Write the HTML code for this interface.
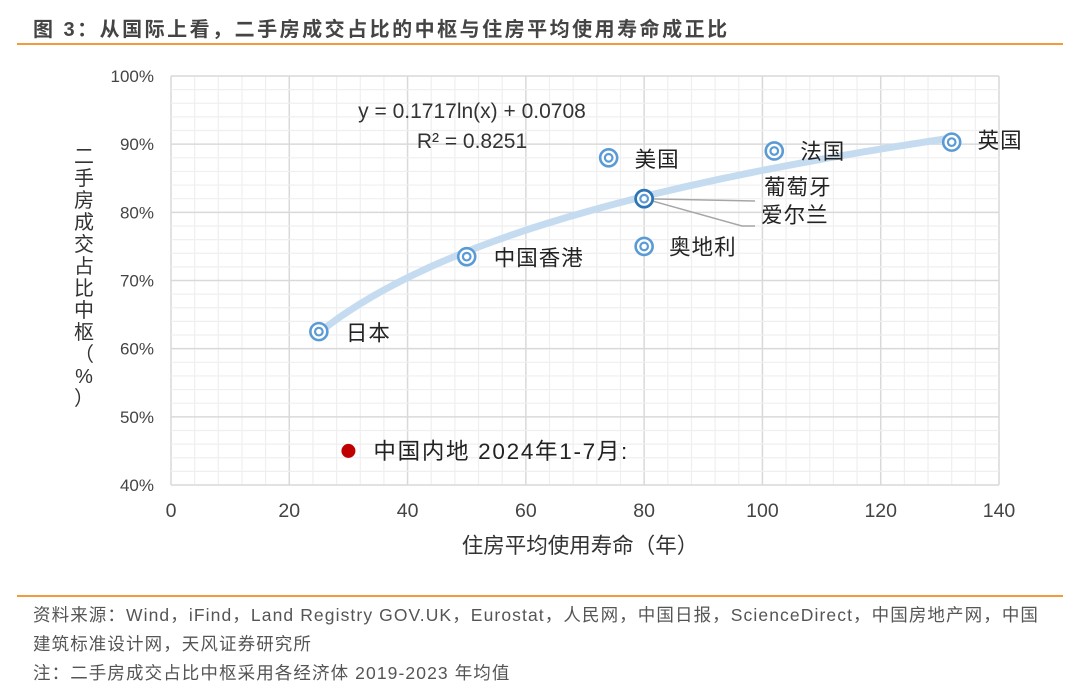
<!DOCTYPE html>
<html><head><meta charset="utf-8">
<style>
body{margin:0;width:1080px;height:700px;background:#fff;overflow:hidden;font-family:"Liberation Sans","Noto Sans CJK SC",sans-serif;}
.t{position:absolute;white-space:nowrap;}
</style></head>
<body>
<div class="t" style="left:33px;top:13px;font-size:20px;letter-spacing:2.5px;font-weight:bold;color:#444;">图 3：从国际上看，二手房成交占比的中枢与住房平均使用寿命成正比</div>
<div style="position:absolute;left:17px;top:43px;width:1046px;height:2px;background:#f39a3a;"></div>
<svg id="chart" width="1080" height="700" style="position:absolute;left:0;top:0;"></svg>
<div style="position:absolute;left:17px;top:595px;width:1046px;height:2px;background:#f39a3a;"></div>
<div class="t" style="left:33px;top:601px;font-size:17.5px;letter-spacing:1.1px;color:#555;line-height:29px;">资料来源：Wind，iFind，Land Registry GOV.UK，Eurostat，人民网，中国日报，ScienceDirect，中国房地产网，中国<br>建筑标准设计网，天风证券研究所<br>注：二手房成交占比中枢采用各经济体 2019-2023 年均值</div>
<script>
const names=["日本","中国香港","美国","葡萄牙","爱尔兰","奥地利","法国","英国"];
const lifeYears=[25,50,74,80,80,80,102,132];
const shares=[62.5,73.5,88,82,82,75,89,90.3];
const xTicks=[0,20,40,60,80,100,120,140];
const yTicks=[40,50,60,70,80,90,100];
const fitA=0.1717, fitB=0.0708;
const chinaX=[30], chinaY=[45];

const NS="http://www.w3.org/2000/svg";
const svg=document.getElementById('chart');
const L=171,R=999,T=76,B=485;
const sx=v=>L+(v-0)/(140-0)*(R-L);
const sy=v=>B-(v-40)/(100-40)*(B-T);
function mk(tag,attrs,parent){const e=document.createElementNS(NS,tag);for(const k in attrs)e.setAttribute(k,attrs[k]);(parent||svg).appendChild(e);return e;}
for(let v=0;v<=140;v+=4){const e=mk('line',{x1:sx(v),x2:sx(v),y1:T,y2:B,stroke:v%20==0?'#d9d9d9':'#efefef','stroke-width':v%20==0?1.5:1.2});

}
for(let v=40;v<=100;v+=2){const e=mk('line',{x1:L,x2:R,y1:sy(v),y2:sy(v),stroke:v%10==0?'#d9d9d9':'#efefef','stroke-width':v%10==0?1.5:1.2});

}
xTicks.forEach(v=>{const e=mk('text',{x:sx(v),y:517,'text-anchor':'middle','font-size':19.5,fill:'#444'});e.textContent=v;

});
yTicks.forEach(v=>{const e=mk('text',{x:154,y:sy(v)+6,'text-anchor':'end','font-size':17,fill:'#444'});e.textContent=v+'%';

});
let xt=mk('text',{x:580,y:553,'text-anchor':'middle','font-size':21.5,fill:'#333'});xt.textContent='住房平均使用寿命（年）';


const yl='二手房成交占比中枢（%）';
const yg=mk('g',{});


[...yl].forEach((c,i)=>{const e=mk('text',{x:84,y:163+i*22,'text-anchor':'middle','font-size':20,fill:'#333'},yg);e.textContent=c;});
let d='';const x0=Math.min(...lifeYears),x1=Math.max(...lifeYears);
for(let i=0;i<=80;i++){const x=x0+(x1-x0)*i/80;const y=(fitA*Math.log(x)+fitB)*100;d+=(i?'L':'M')+sx(x).toFixed(1)+','+sy(y).toFixed(1);}
const tl=mk('path',{d:d,fill:'none',stroke:'#c5dcf0','stroke-width':7,'stroke-linecap':'round'});


let eq=mk('text',{x:472,y:118,'text-anchor':'middle','font-size':21,fill:'#333'});eq.textContent='y = 0.1717ln(x) + 0.0708';


let r2=mk('text',{x:472,y:148,'text-anchor':'middle','font-size':21,fill:'#333'});r2.textContent='R² = 0.8251';


mk('line',{x1:sx(80),y1:sy(82),x2:755,y2:201,stroke:'#a6a6a6','stroke-width':1.5});
mk('polyline',{points:`${sx(80)},${sy(82)} 742,226 755,226`,fill:'none',stroke:'#a6a6a6','stroke-width':1.5});
const lblOff={"日本":[27,9],"中国香港":[27,9],"美国":[26,9],"葡萄牙":[120,-4],"爱尔兰":[117,24],"奥地利":[25,8],"法国":[26,8],"英国":[26,6]};
names.forEach((n,i)=>{const cx=sx(lifeYears[i]),cy=sy(shares[i]);
const g=mk('g',{});


mk('circle',{cx:cx,cy:cy,r:8.5,fill:'#fff',stroke:'#5b9bd5','stroke-width':2.6},g);
mk('circle',{cx:cx,cy:cy,r:3.8,fill:'none',stroke:'#5b9bd5','stroke-width':2.2},g);
const o=lblOff[n];const t=mk('text',{x:cx+o[0],y:cy+o[1],'font-size':21.5,'letter-spacing':1,fill:'#222'},g);t.textContent=n;});
mk('circle',{cx:sx(80),cy:sy(82),r:8.5,fill:'none',stroke:'#2e75b6','stroke-width':2.6});
chinaX.forEach((x,i)=>{const c=mk('circle',{cx:sx(x),cy:sy(chinaY[i]),r:7,fill:'#c00000'});


const t=mk('text',{x:sx(x)+25,y:sy(chinaY[i])+8,'font-size':22.5,'letter-spacing':1.7,fill:'#222'});t.textContent='中国内地 2024年1-7月:';

});
</script>
</body></html>
